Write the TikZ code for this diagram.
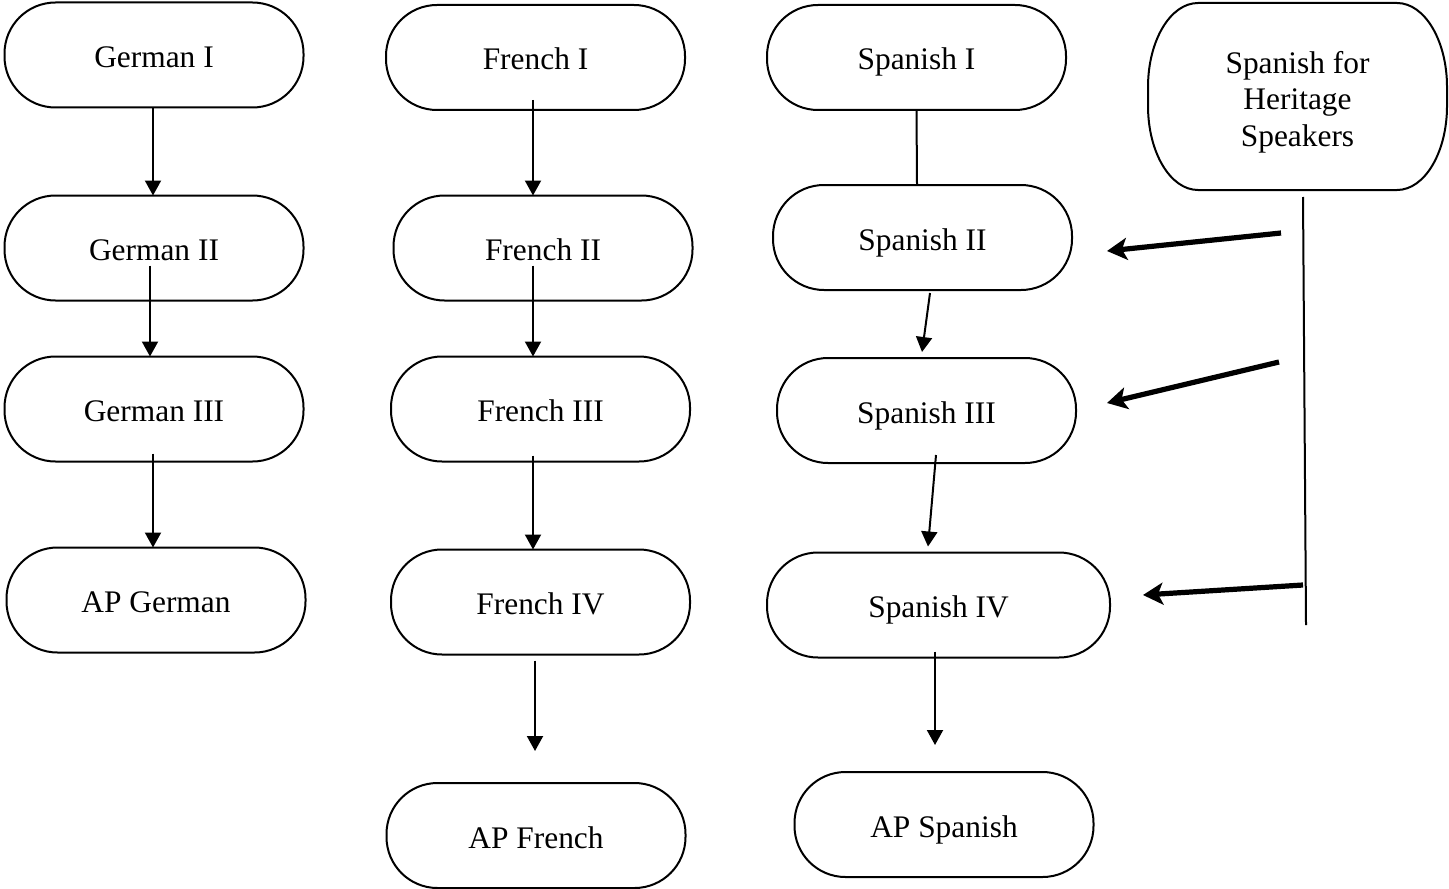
\documentclass[tikz,border=0pt]{standalone}
\usepackage{fontspec}
\setmainfont{Liberation Serif}
\usetikzlibrary{arrows.meta}
\begin{document}
\begin{tikzpicture}[x=0.5pt,y=-0.5pt,
  box/.style={draw, line width=1pt, rounded corners=25.5pt, inner sep=0pt, outer sep=0pt, align=center,
    minimum width=149.5pt, minimum height=52.5pt, text height=12.5pt, text depth=0pt,
    font=\fontsize{15.7}{18.3}\selectfont},
  plainbox/.style={inner sep=0pt, outer sep=0pt, align=center, font=\fontsize{15.7}{18.3}\selectfont},
  arr/.style={line width=1pt, -{Triangle[length=7.5pt,width=8pt]}},
  link/.style={line width=1pt},
  thick arr/.style={line width=2.6pt, -{Stealth[length=10pt,width=11pt,inset=2.5pt]}}]
\useasboundingbox (0,0) rectangle (1449,888);
% German
\node[box] (g1) at (154,55) {German I};
\node[box] (g2) at (154,248) {German II};
\node[box] (g3) at (154,409) {German III};
\node[box] (g4) at (156,600) {AP German};
% French
\node[box] (f1) at (535.5,57.5) {French I};
\node[box] (f2) at (543,248) {French II};
\node[box] (f3) at (540.5,409) {French III};
\node[box] (f4) at (540.5,602) {French IV};
\node[box] (f5) at (536,835.5) {AP French};
% Spanish
\node[box] (s1) at (916.5,57.5) {Spanish I};
\node[box] (s2) at (922.5,237.5) {Spanish II};
\node[box] (s3) at (926.5,410.5) {Spanish III};
\node[box, minimum width=171.5pt] (s4) at (938.5,605) {Spanish IV};
\node[box] (s5) at (944,824.5) {AP Spanish};
% Heritage
\node[plainbox, minimum width=149.5pt, minimum height=93.5pt] (h) at (1297.5,96.5) {\rule{0pt}{16.5pt}Spanish for\\Heritage\\Speakers};
\draw[line width=1pt]
  ([xshift=25pt]h.north west) -- ([xshift=-25pt]h.north east)
  arc[start angle=90, end angle=0, x radius=25pt, y radius=42pt]
  -- ([yshift=42pt]h.south east)
  arc[start angle=0, end angle=-90, x radius=25pt, y radius=42pt]
  -- ([xshift=25pt]h.south west)
  arc[start angle=270, end angle=180, x radius=25pt, y radius=42pt]
  -- ([yshift=-42pt]h.north west)
  arc[start angle=180, end angle=90, x radius=25pt, y radius=42pt] -- cycle;
% German connectors
\draw[arr] ([xshift=-0.5pt]g1.south) -- ([xshift=-0.5pt]g2.north);
\draw[arr] ([xshift=-2pt,yshift=17.5pt]g2.south) -- ([xshift=-2pt]g3.north);
\draw[arr] ([xshift=-0.5pt,yshift=4pt]g3.south) -- ([xshift=-1.5pt]g4.north);
% French connectors
\draw[arr] ([xshift=-1.25pt,yshift=5pt]f1.south) -- ([xshift=-5pt]f2.north);
\draw[arr] ([xshift=-5pt,yshift=17.5pt]f2.south) -- ([xshift=-3.75pt]f3.north);
\draw[arr] ([xshift=-3.75pt,yshift=3pt]f3.south) -- ([xshift=-3.75pt]f4.north);
\draw[arr] ([xshift=-2.75pt,yshift=-3pt]f4.south) -- ([xshift=-0.5pt,yshift=16pt]f5.north);
% Spanish connectors
\draw[link] (s1.south) -- ([xshift=-2.75pt]s2.north);
\draw[arr] ([xshift=3.75pt,yshift=-1.5pt]s2.south) -- ([xshift=-2.25pt,yshift=3pt]s3.north);
\draw[arr] ([xshift=4.75pt,yshift=4pt]s3.south) -- ([xshift=-5.25pt,yshift=3pt]s4.north);
\draw[arr] ([xshift=-1.75pt,yshift=3pt]s4.south) -- ([xshift=-4.5pt,yshift=13.5pt]s5.north);
% Heritage connectors
\coordinate (hb) at (1306,625);
\coordinate (h1) at (1281,233);
\coordinate (h2) at (1279,362);
\coordinate (h3) at (1303,585);
\draw[link] ([xshift=2.75pt,yshift=-3.5pt]h.south) -- (hb);
\draw[thick arr] (h1) -- ([xshift=17.5pt,yshift=-6.75pt]s2.east);
\draw[thick arr] (h2) -- ([xshift=15.5pt,yshift=3.75pt]s3.east);
\draw[thick arr] (h3) -- ([xshift=16.5pt,yshift=5pt]s4.east);
\end{tikzpicture}
\end{document}
